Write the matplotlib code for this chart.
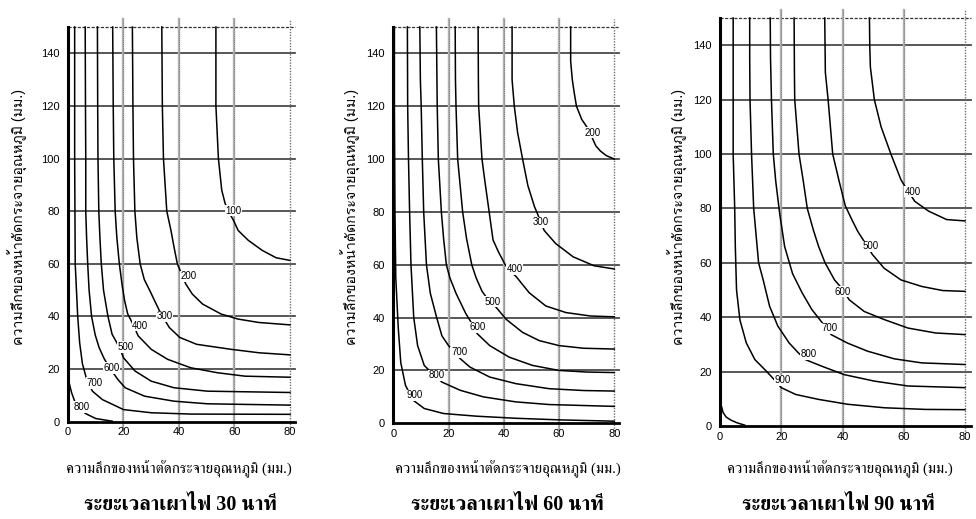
import matplotlib
matplotlib.use("Agg")
import matplotlib.pyplot as plt
from matplotlib import font_manager, ft2font

# ==============================================================================
# DATA (mm)
# ==============================================================================

x_ticks = [0, 20, 40, 60, 80]
y_ticks = [0, 20, 40, 60, 80, 100, 120, 140]

axis_text = "ความลึกของหน้าตัดกระจายอุณหภูมิ (มม.)"
titles = ["ระยะเวลาเผาไฟ 30 นาที", "ระยะเวลาเผาไฟ 60 นาที", "ระยะเวลาเผาไฟ 90 นาที"]

# isotherms after 30 min : temperature -> [(x, y), ...]
iso_30 = {
    100: [(53.3, 150), (53.3, 120), (54.2, 100), (55.4, 88), (56.6, 83), (58.3, 79), (59.6, 76.6),
          (61.3, 72.7), (65, 68.9), (70, 65.1), (75, 62.3), (80, 61.3)],
    200: [(33.8, 150), (34.0, 120), (34.4, 100), (35.6, 80), (37.1, 72.7), (38.2, 66.4), (39.4, 60),
          (41, 56), (42.4, 52.4), (44.8, 48.5), (48.5, 44.7), (55.2, 40.9), (61.3, 39.0), (68.8, 37.7),
          (80, 36.8)],
    300: [(23.2, 150), (23.4, 120), (23.6, 100), (24.1, 80), (24.8, 70), (26, 60), (27.5, 54), (29.4, 50),
          (31.2, 46), (33.5, 41), (36.5, 35.8), (40.3, 32.0), (46.4, 29.4), (58.8, 27.5), (68.8, 26.2),
          (80, 25.4)],
    400: [(16.1, 150), (16.3, 120), (16.5, 100), (17.0, 80), (17.6, 70), (18.5, 60), (19.5, 52),
          (20.4, 46), (21.5, 41), (23.2, 37.5), (25.3, 32.6), (30, 27.5), (35.9, 23.7), (44.2, 20.5),
          (53.9, 18.6), (63.8, 17.3), (80, 16.9)],
    500: [(10.6, 150), (10.7, 120), (10.8, 100), (11.1, 80), (11.5, 70), (12.0, 60), (12.8, 50),
          (14.4, 40), (15.9, 33.2), (17.5, 30.2), (18.8, 27.5), (20, 24.3), (24.1, 19.3), (30, 15.4),
          (38.2, 12.9), (50.3, 11.6), (80, 11.1)],
    600: [(6.2, 150), (6.3, 120), (6.4, 100), (6.4, 80), (6.7, 70), (7.1, 60), (7.6, 50), (8.5, 40),
          (9.8, 33), (11.2, 28.2), (13, 24), (15.3, 20), (18, 16), (20.6, 12.9), (27.6, 9.7),
          (38.2, 7.8), (50.3, 6.8), (80, 6.3)],
    700: [(2.4, 150), (2.4, 100), (2.6, 60), (3.5, 40), (4.2, 30), (5.2, 22), (6.5, 17), (8.8, 11.6),
          (12.4, 8.4), (20, 4.6), (30, 3.4), (44.2, 2.9), (80, 2.8)],
    800: [(0, 16.3), (0.6, 14), (1.3, 11), (2.4, 7.8), (4.5, 4.6), (6.5, 3), (10, 1.2), (15.9, 0.2)],
}
label_30 = {100: (59.6, 80.2), 200: (43.6, 55.2), 300: (34.7, 40.0), 400: (26.0, 36.5),
            500: (20.6, 28.4), 600: (15.7, 20.4), 700: (9.5, 14.7), 800: (4.8, 5.6)}

# isotherms after 60 min
iso_60 = {
    200: [(64.2, 150), (64.2, 137), (64.8, 130), (65.5, 125), (66.3, 120), (68.2, 115), (70.5, 111.5),
          (73.3, 105), (75, 103), (77.1, 101.3), (80, 100)],
    300: [(43, 150), (43, 130), (43.8, 120), (45, 110), (46.8, 100), (48.7, 90), (51.1, 82), (53.5, 76),
          (54.6, 73), (58.8, 68), (65.1, 63), (72.7, 59.6), (80, 58.4)],
    400: [(30.7, 150), (30.8, 130), (30.9, 120), (32.1, 100), (33.1, 92), (34.7, 80), (36.1, 69.4),
          (38, 65), (40.2, 60.6), (41.8, 58), (44.4, 55.6), (49.2, 49.4), (55.2, 44.4), (62.5, 41.9),
          (71.4, 40.6), (80, 40.3)],
    500: [(22.4, 150), (22.5, 130), (22.7, 120), (23.3, 100), (25.1, 80), (26.5, 70), (28.4, 60),
          (30, 55), (32.1, 50), (34.5, 46.5), (37.3, 43.8), (40.8, 39.4), (46.8, 34.4), (52.8, 31.3),
          (60, 29.4), (68.9, 28.4), (80, 28.1)],
    600: [(15.6, 150), (15.8, 130), (15.9, 120), (16.3, 100), (17.4, 80), (18.2, 70), (19.2, 60),
          (20.5, 55), (22.7, 49.2), (26.2, 41.6), (28.3, 38), (30.3, 34), (34.9, 29.4), (42, 25),
          (50.4, 21.9), (60, 20), (70, 19.4), (80, 19.2)],
    700: [(9.6, 150), (9.8, 130), (10.1, 120), (10.5, 100), (11, 80), (12, 60), (13.4, 49.2), (15.7, 40),
          (17.6, 33.1), (20, 29.4), (23, 25.6), (27.7, 21.3), (34.9, 17.5), (44.4, 15), (56.4, 13.1),
          (68.9, 12.4), (80, 12.2)],
    800: [(5.1, 150), (5.2, 120), (5.5, 100), (5.9, 80), (6.4, 60), (7.4, 40), (8.8, 29.4), (11.2, 21.9),
          (13.5, 19.5), (17.6, 15.6), (24.2, 12.5), (32.6, 10), (44.4, 8.1), (56.4, 7.1), (80, 6.4)],
    900: [(0.4, 150), (0.4, 120), (0.6, 80), (0.9, 55), (1.8, 36), (2.7, 23), (4.4, 14.4), (7.1, 8.8),
          (11.2, 5.6), (18.2, 3.7), (30, 2.7), (44.4, 1.9), (60, 1.3), (80, 0.8)],
}
label_60 = {200: (72.0, 110.0), 300: (53.5, 76.0), 400: (43.9, 58.4), 500: (36.0, 46.0),
            600: (30.5, 36.4), 700: (23.8, 26.9), 800: (15.7, 18.1), 900: (7.9, 10.6)}

# isotherms after 90 min
iso_90 = {
    400: [(48.8, 150), (48.9, 140), (49.1, 132), (50.4, 120), (52.6, 110), (55.8, 100), (59.1, 90.5),
          (61, 87), (63.6, 82.6), (68.1, 79), (74, 75.9), (80, 75.4)],
    500: [(34.2, 150), (34.4, 130), (35.3, 120), (36.8, 100), (38.9, 90), (40.9, 81), (43, 76),
          (45, 71.5), (47, 68), (49.8, 63), (53.6, 58), (59.1, 53.7), (65.9, 51.3), (72.7, 49.8),
          (80, 49.5)],
    600: [(24.2, 150), (24.3, 130), (24.4, 120), (25.8, 100), (27.2, 90), (28.5, 80), (30.5, 72),
          (32.2, 66), (34.3, 60), (37.4, 53.7), (39.5, 51), (42.2, 46.4), (47.1, 42.1), (53.7, 39.1),
          (61.4, 36), (70.4, 34.2), (80, 33.6)],
    700: [(16.4, 150), (16.5, 135), (16.8, 120), (17.4, 100), (18.2, 90), (19.5, 78), (21.1, 66),
          (23.7, 56), (26.8, 49), (30, 42.8), (32.6, 39.1), (36.3, 33.6), (41.6, 30.5), (48.2, 27.5),
          (56.9, 24.7), (65.9, 23.2), (80, 22.6)],
    800: [(9.7, 150), (9.7, 135), (9.8, 120), (10.3, 100), (11, 80), (12.6, 60), (14.1, 53.7), (16.2, 44),
          (18.9, 36.7), (22.6, 30.5), (25.5, 27), (27.9, 24.4), (33.2, 22), (40.5, 18.9), (50.4, 16.5),
          (61.4, 14.7), (80, 14.1)],
    900: [(4.3, 150), (4.3, 100), (4.8, 80), (5.0, 66), (5.4, 50), (6.5, 39), (8.6, 30.5), (11.4, 24.4),
          (15.1, 20.2), (17.5, 17.3), (20, 14.1), (24.7, 11.6), (32.1, 9.8), (41.6, 8), (53.7, 6.7),
          (67, 6.1), (80, 6.0)],
    1000: [(0, 9.5), (0.3, 8), (1.0, 5), (2, 3.3), (3.5, 2.2), (5.5, 1.2), (8.1, 0.3)],
}
label_90 = {400: (62.9, 86.2), 500: (49.3, 66.0), 600: (40.2, 49.3), 700: (35.8, 35.9),
            800: (29.0, 26.5), 900: (20.4, 16.8)}


# ==============================================================================
# FONTS
# ==============================================================================

def find_thai_fonts():
    """Returns names of installed families that have Thai glyphs"""
    found, seen = [], set()
    for f in font_manager.fontManager.ttflist:
        if f.name in seen:
            continue
        seen.add(f.name)
        try:
            if 0x0E01 in ft2font.FT2Font(f.fname).get_charmap():
                found.append(f.name)
        except Exception:
            pass
    return found


thai = find_thai_fonts()
thai_serif = [n for n in thai if "Serif" in n or n in ("Norasi", "Kinnari", "Laksaman")]
thai_sans = [n for n in thai if n not in thai_serif]
sans_fam = ["Liberation Sans"] + thai_sans + thai_serif + ["DejaVu Sans"]
serif_fam = ["Liberation Serif"] + thai_serif + thai_sans + ["DejaVu Sans"]


# ==============================================================================
# PLOT
# ==============================================================================

def draw_panel(ax, curves, labels):

    ax.set_xlim(0, 80)
    ax.set_ylim(0, 150)
    for s in ax.spines.values():
        s.set_visible(False)

    # grid
    for y in y_ticks[1:]:
        ax.plot([0, 81.8], [y, y], color='#4a4a4a', lw=1.3, clip_on=False, zorder=1)
    ax.plot([0, 81.8], [150, 150], color='#333333', lw=0.9, ls=(0, (2.5, 1.2)), clip_on=False, zorder=1)
    for x in x_ticks[1:-1]:
        ax.plot([x, x], [-3, 153], color='#b0b0b0', lw=1.7, clip_on=False, zorder=1)
        ax.plot([x, x], [-3, 153], color='#6a6a6a', lw=0.6, ls=(0, (1, 1.5)), clip_on=False, zorder=1)
    ax.plot([80, 80], [-3, 153], color='#707070', lw=1.0, ls=(0, (1, 1)), clip_on=False, zorder=1)

    # isotherms
    for t, pts in curves.items():
        xs = [p[0] for p in pts]
        ys = [p[1] for p in pts]
        ax.plot(xs, ys, color='black', lw=1.1, zorder=2, clip_on=False)
    for t, (x, y) in labels.items():
        ax.text(x, y, str(t), fontsize=7, ha='center', va='center', family=sans_fam, zorder=3,
                bbox=dict(fc='white', ec='none', pad=0.4))

    # axes lines
    ax.plot([0, 0], [0, 150], color='black', lw=2.2, clip_on=False, zorder=4)
    ax.plot([0, 81.8], [0, 0], color='black', lw=2.0, clip_on=False, zorder=4)

    ax.set_xticks(x_ticks)
    ax.set_yticks(y_ticks)
    ax.tick_params(length=0, labelsize=8)
    ax.tick_params(axis='x', pad=4)
    ax.tick_params(axis='y', pad=6)
    for lab in ax.get_xticklabels() + ax.get_yticklabels():
        lab.set_family(sans_fam)


fig = plt.figure(figsize=(9.76, 5.19), dpi=100)

# axes rectangles in pixels: x0, x80, y0, y150 (from top)
boxes = [(68, 290, 421.7, 27.0), (393.3, 614.3, 423.3, 26.9), (720, 965, 426.0, 18.0)]
all_curves = [iso_30, iso_60, iso_90]
all_labels = [label_30, label_60, label_90]
ylab_x = [18, 351, 678]
xlab_x = [179, 508, 840]
title_x = [180, 507, 838]

W, H = 976, 519
for i in range(3):
    x0, x1, y0, y1 = boxes[i]
    ax = fig.add_axes([x0 / W, 1 - y0 / H, (x1 - x0) / W, (y0 - y1) / H])
    draw_panel(ax, all_curves[i], all_labels[i])

    fig.text(ylab_x[i] / W, 1 - 217 / H, axis_text, rotation=90, ha='center', va='center',
             fontsize=10.2, family=sans_fam)
    fig.text(xlab_x[i] / W, 1 - 469 / H, axis_text, ha='center', va='center',
             fontsize=10.8, family=serif_fam)
    fig.text(title_x[i] / W, 1 - 505 / H, titles[i], ha='center', va='center',
             fontsize=14.5, fontweight='bold', family=serif_fam)

fig.savefig("out.png", dpi=100)
